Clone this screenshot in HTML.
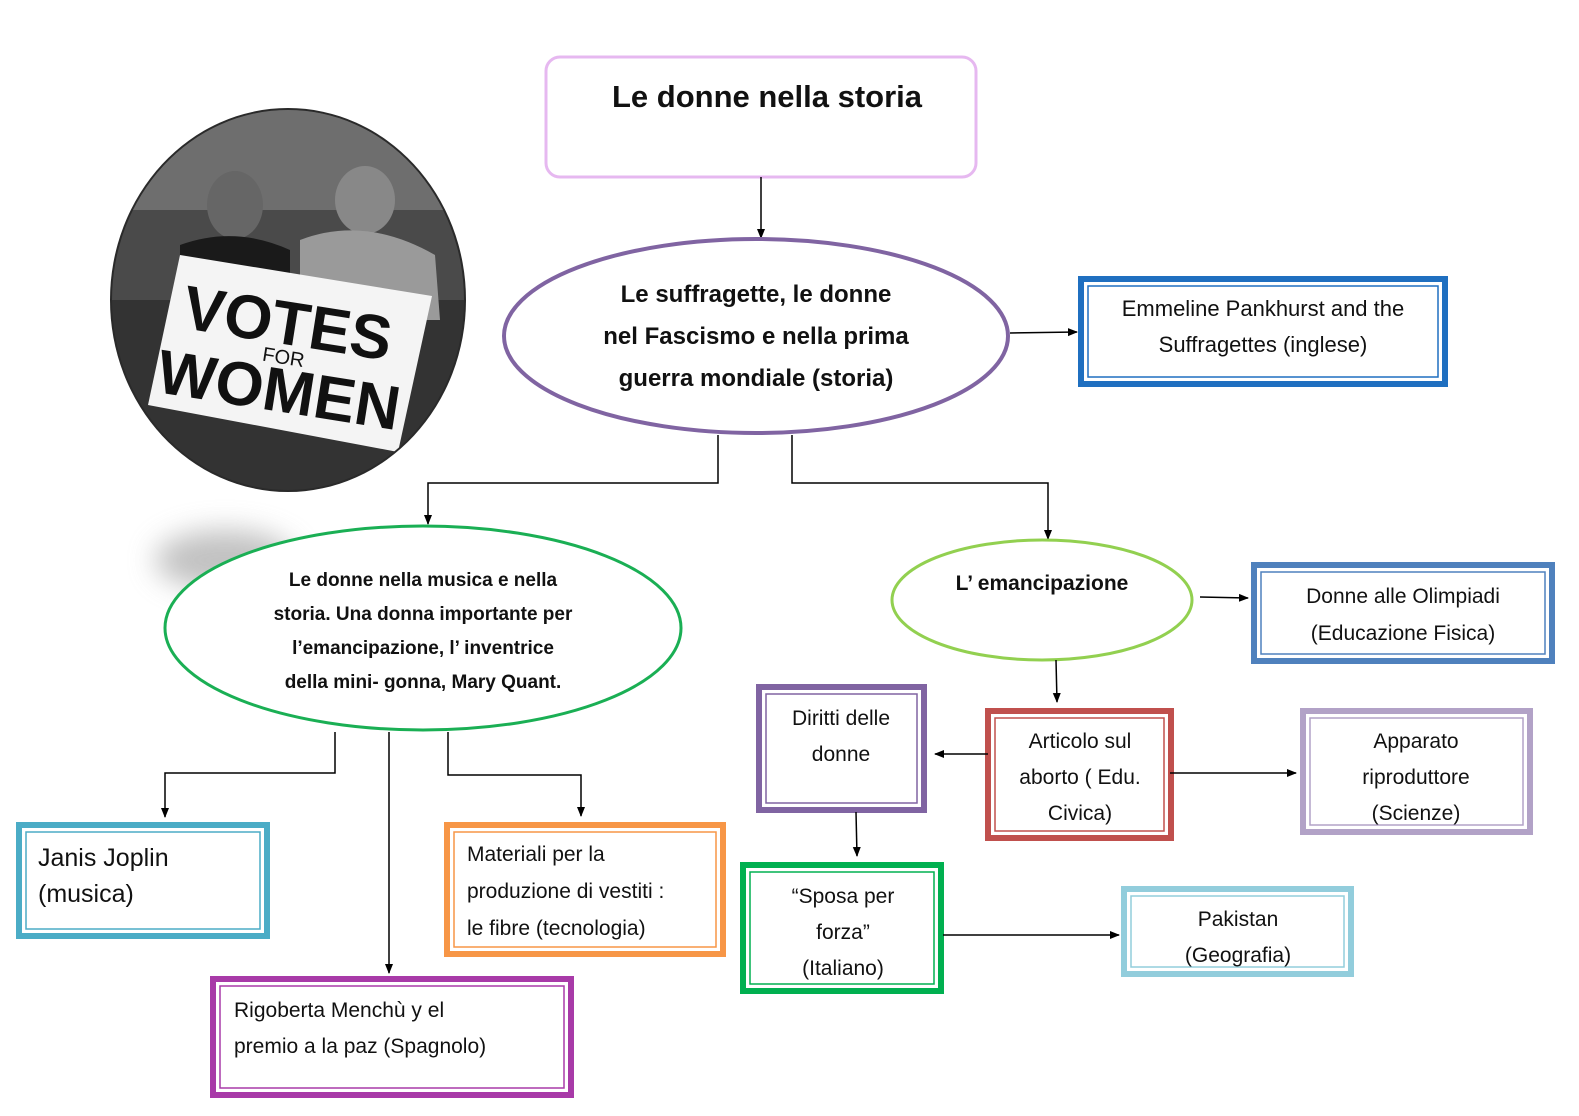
<!DOCTYPE html>
<html><head><meta charset="utf-8"><style>
html,body{margin:0;padding:0;background:#fff;}
svg{display:block}
text{font-family:"Liberation Sans",sans-serif;fill:#111;}
.b{font-weight:bold}
</style></head><body>
<svg width="1579" height="1116" viewBox="0 0 1579 1116" xmlns="http://www.w3.org/2000/svg">
<defs>
<marker id="a" markerWidth="10" markerHeight="10" refX="9" refY="5" orient="auto" markerUnits="userSpaceOnUse"><path d="M0,1 L10,5 L0,9 z" fill="#000"/></marker>
<filter id="bl" x="-100%" y="-100%" width="300%" height="300%"><feGaussianBlur stdDeviation="14"/></filter>
<clipPath id="cc"><ellipse cx="288" cy="300" rx="176" ry="190"/></clipPath>
</defs>

<!-- photo circle -->
<ellipse cx="288" cy="300" rx="178" ry="192" fill="#2a2a2a"/>
<g clip-path="url(#cc)">
<rect x="100" y="100" width="380" height="200" fill="#4a4a4a"/>
<rect x="100" y="100" width="380" height="110" fill="#6e6e6e"/>
<rect x="100" y="300" width="380" height="200" fill="#333"/>
<ellipse cx="235" cy="205" rx="28" ry="34" fill="#666"/>
<ellipse cx="365" cy="200" rx="30" ry="34" fill="#888"/>
<path d="M180,245 Q235,225 290,250 L290,330 L180,330 z" fill="#1a1a1a"/>
<path d="M300,240 Q365,215 435,255 L440,320 L300,320 z" fill="#9a9a9a"/>
<polygon points="180,255 432,296 398,452 148,405" fill="#f4f4f4"/>
<text x="180" y="345" font-family="Liberation Serif" font-size="62" font-weight="bold" transform="rotate(9 290 340)">VOTES</text>
<text x="262" y="365" font-family="Liberation Serif" font-size="20" transform="rotate(9 290 360)">FOR</text>
<text x="155" y="410" font-family="Liberation Serif" font-size="62" font-weight="bold" transform="rotate(9 270 400)">WOMEN</text>
</g>

<!-- title -->
<rect x="546" y="57" width="430" height="120" rx="14" fill="#fff" stroke="#e6b8f0" stroke-width="3"/>
<text x="767" y="107" class="b" font-size="31" text-anchor="middle">Le donne nella storia</text>
<line x1="761" y1="177" x2="761" y2="238" stroke="#000" stroke-width="1.5" marker-end="url(#a)"/>

<!-- storia ellipse -->
<ellipse cx="756" cy="336" rx="252" ry="97" fill="#fff" stroke="#8064a2" stroke-width="4"/>
<g font-size="24" text-anchor="middle">
<text x="756" y="302" class="b">Le suffragette, le donne</text>
<text x="756" y="344" class="b">nel Fascismo e nella prima</text>
<text x="756" y="386" class="b">guerra mondiale (storia)</text>
</g>
<line x1="1010" y1="333" x2="1077" y2="332" stroke="#000" stroke-width="1.5" marker-end="url(#a)"/>
<rect x="1081" y="279" width="364" height="105" fill="#fff" stroke="#1f6fc0" stroke-width="6"/>
<rect x="1088" y="286" width="350" height="91" fill="none" stroke="#1f6fc0" stroke-width="1.5"/>
<text x="1263" y="316" font-size="22" text-anchor="middle">Emmeline Pankhurst and the</text>
<text x="1263" y="352" font-size="22" text-anchor="middle">Suffragettes (inglese)</text>

<!-- connectors from storia -->
<polyline points="718,435 718,483 428,483 428,524" fill="none" stroke="#000" stroke-width="1.5" marker-end="url(#a)"/>
<polyline points="792,435 792,483 1048,483 1048,539" fill="none" stroke="#000" stroke-width="1.5" marker-end="url(#a)"/>

<!-- green ellipse -->
<ellipse cx="225" cy="560" rx="70" ry="30" fill="#999" opacity="0.6" filter="url(#bl)"/>
<ellipse cx="423" cy="628" rx="258" ry="102" fill="#fff" stroke="#1aaf54" stroke-width="3"/>
<g font-size="19" text-anchor="middle">
<text x="423" y="586" class="b">Le donne nella musica e nella</text>
<text x="423" y="620" class="b">storia. Una donna importante per</text>
<text x="423" y="654" class="b">l’emancipazione, l’ inventrice</text>
<text x="423" y="688" class="b">della mini- gonna, Mary Quant.</text>
</g>
<polyline points="335,732 335,773 165,773 165,817" fill="none" stroke="#000" stroke-width="1.5" marker-end="url(#a)"/>
<line x1="389" y1="732" x2="389" y2="973" stroke="#000" stroke-width="1.5" marker-end="url(#a)"/>
<polyline points="448,732 448,775 581,775 581,816" fill="none" stroke="#000" stroke-width="1.5" marker-end="url(#a)"/>

<rect x="19" y="825" width="248" height="111" fill="#fff" stroke="#4bacc6" stroke-width="6"/>
<rect x="26" y="832" width="234" height="97" fill="none" stroke="#4bacc6" stroke-width="1.5"/>
<text x="38" y="866" font-size="25">Janis Joplin</text>
<text x="38" y="902" font-size="25">(musica)</text>

<rect x="447" y="825" width="276" height="129" fill="#fff" stroke="#f79646" stroke-width="6"/>
<rect x="454" y="832" width="262" height="115" fill="none" stroke="#f79646" stroke-width="1.5"/>
<text x="467" y="861" font-size="21">Materiali  per la</text>
<text x="467" y="898" font-size="21">produzione di vestiti :</text>
<text x="467" y="935" font-size="21">le fibre  (tecnologia)</text>

<rect x="213" y="979" width="358" height="116" fill="#fff" stroke="#a83aa8" stroke-width="6"/>
<rect x="220" y="986" width="344" height="102" fill="none" stroke="#a83aa8" stroke-width="1.5"/>
<text x="234" y="1017" font-size="21">Rigoberta Menchù y el</text>
<text x="234" y="1053" font-size="21">premio a la paz (Spagnolo)</text>

<!-- emancipazione -->
<ellipse cx="1042" cy="600" rx="150" ry="60" fill="#fff" stroke="#92d050" stroke-width="3"/>
<text x="1042" y="590" class="b" font-size="21" text-anchor="middle">L’ emancipazione</text>
<line x1="1200" y1="597" x2="1248" y2="598" stroke="#000" stroke-width="1.5" marker-end="url(#a)"/>
<rect x="1254" y="565" width="298" height="96" fill="#fff" stroke="#4f81bd" stroke-width="6"/>
<rect x="1261" y="572" width="284" height="82" fill="none" stroke="#4f81bd" stroke-width="1.5"/>
<text x="1403" y="603" font-size="21" text-anchor="middle">Donne alle Olimpiadi</text>
<text x="1403" y="640" font-size="21" text-anchor="middle">(Educazione Fisica)</text>

<line x1="1056" y1="660" x2="1057" y2="702" stroke="#000" stroke-width="1.5" marker-end="url(#a)"/>
<rect x="988" y="711" width="183" height="127" fill="#fff" stroke="#c0504d" stroke-width="6"/>
<rect x="995" y="718" width="169" height="113" fill="none" stroke="#c0504d" stroke-width="1.5"/>
<text x="1080" y="748" font-size="21" text-anchor="middle">Articolo sul</text>
<text x="1080" y="784" font-size="21" text-anchor="middle">aborto ( Edu.</text>
<text x="1080" y="820" font-size="21" text-anchor="middle">Civica)</text>

<line x1="988" y1="754" x2="935" y2="754" stroke="#000" stroke-width="1.5" marker-end="url(#a)"/>
<rect x="759" y="687" width="165" height="123" fill="#fff" stroke="#8064a2" stroke-width="6"/>
<rect x="766" y="694" width="151" height="109" fill="none" stroke="#8064a2" stroke-width="1.5"/>
<text x="841" y="725" font-size="21" text-anchor="middle">Diritti delle</text>
<text x="841" y="761" font-size="21" text-anchor="middle">donne</text>

<line x1="1170" y1="773" x2="1296" y2="773" stroke="#000" stroke-width="1.5" marker-end="url(#a)"/>
<rect x="1303" y="711" width="227" height="121" fill="#fff" stroke="#b2a2c7" stroke-width="6"/>
<rect x="1310" y="718" width="213" height="107" fill="none" stroke="#b2a2c7" stroke-width="1.5"/>
<text x="1416" y="748" font-size="21" text-anchor="middle">Apparato</text>
<text x="1416" y="784" font-size="21" text-anchor="middle">riproduttore</text>
<text x="1416" y="820" font-size="21" text-anchor="middle">(Scienze)</text>

<line x1="856" y1="812" x2="857" y2="856" stroke="#000" stroke-width="1.5" marker-end="url(#a)"/>
<rect x="743" y="865" width="198" height="126" fill="#fff" stroke="#00b050" stroke-width="6"/>
<rect x="750" y="872" width="184" height="112" fill="none" stroke="#00b050" stroke-width="1.5"/>
<text x="843" y="903" font-size="21" text-anchor="middle">“Sposa per</text>
<text x="843" y="939" font-size="21" text-anchor="middle">forza”</text>
<text x="843" y="975" font-size="21" text-anchor="middle">(Italiano)</text>

<line x1="943" y1="935" x2="1119" y2="935" stroke="#000" stroke-width="1.5" marker-end="url(#a)"/>
<rect x="1124" y="889" width="227" height="85" fill="#fff" stroke="#92cddc" stroke-width="6"/>
<rect x="1131" y="896" width="213" height="71" fill="none" stroke="#92cddc" stroke-width="1.5"/>
<text x="1238" y="926" font-size="21" text-anchor="middle">Pakistan</text>
<text x="1238" y="962" font-size="21" text-anchor="middle">(Geografia)</text>
</svg>
</body></html>
